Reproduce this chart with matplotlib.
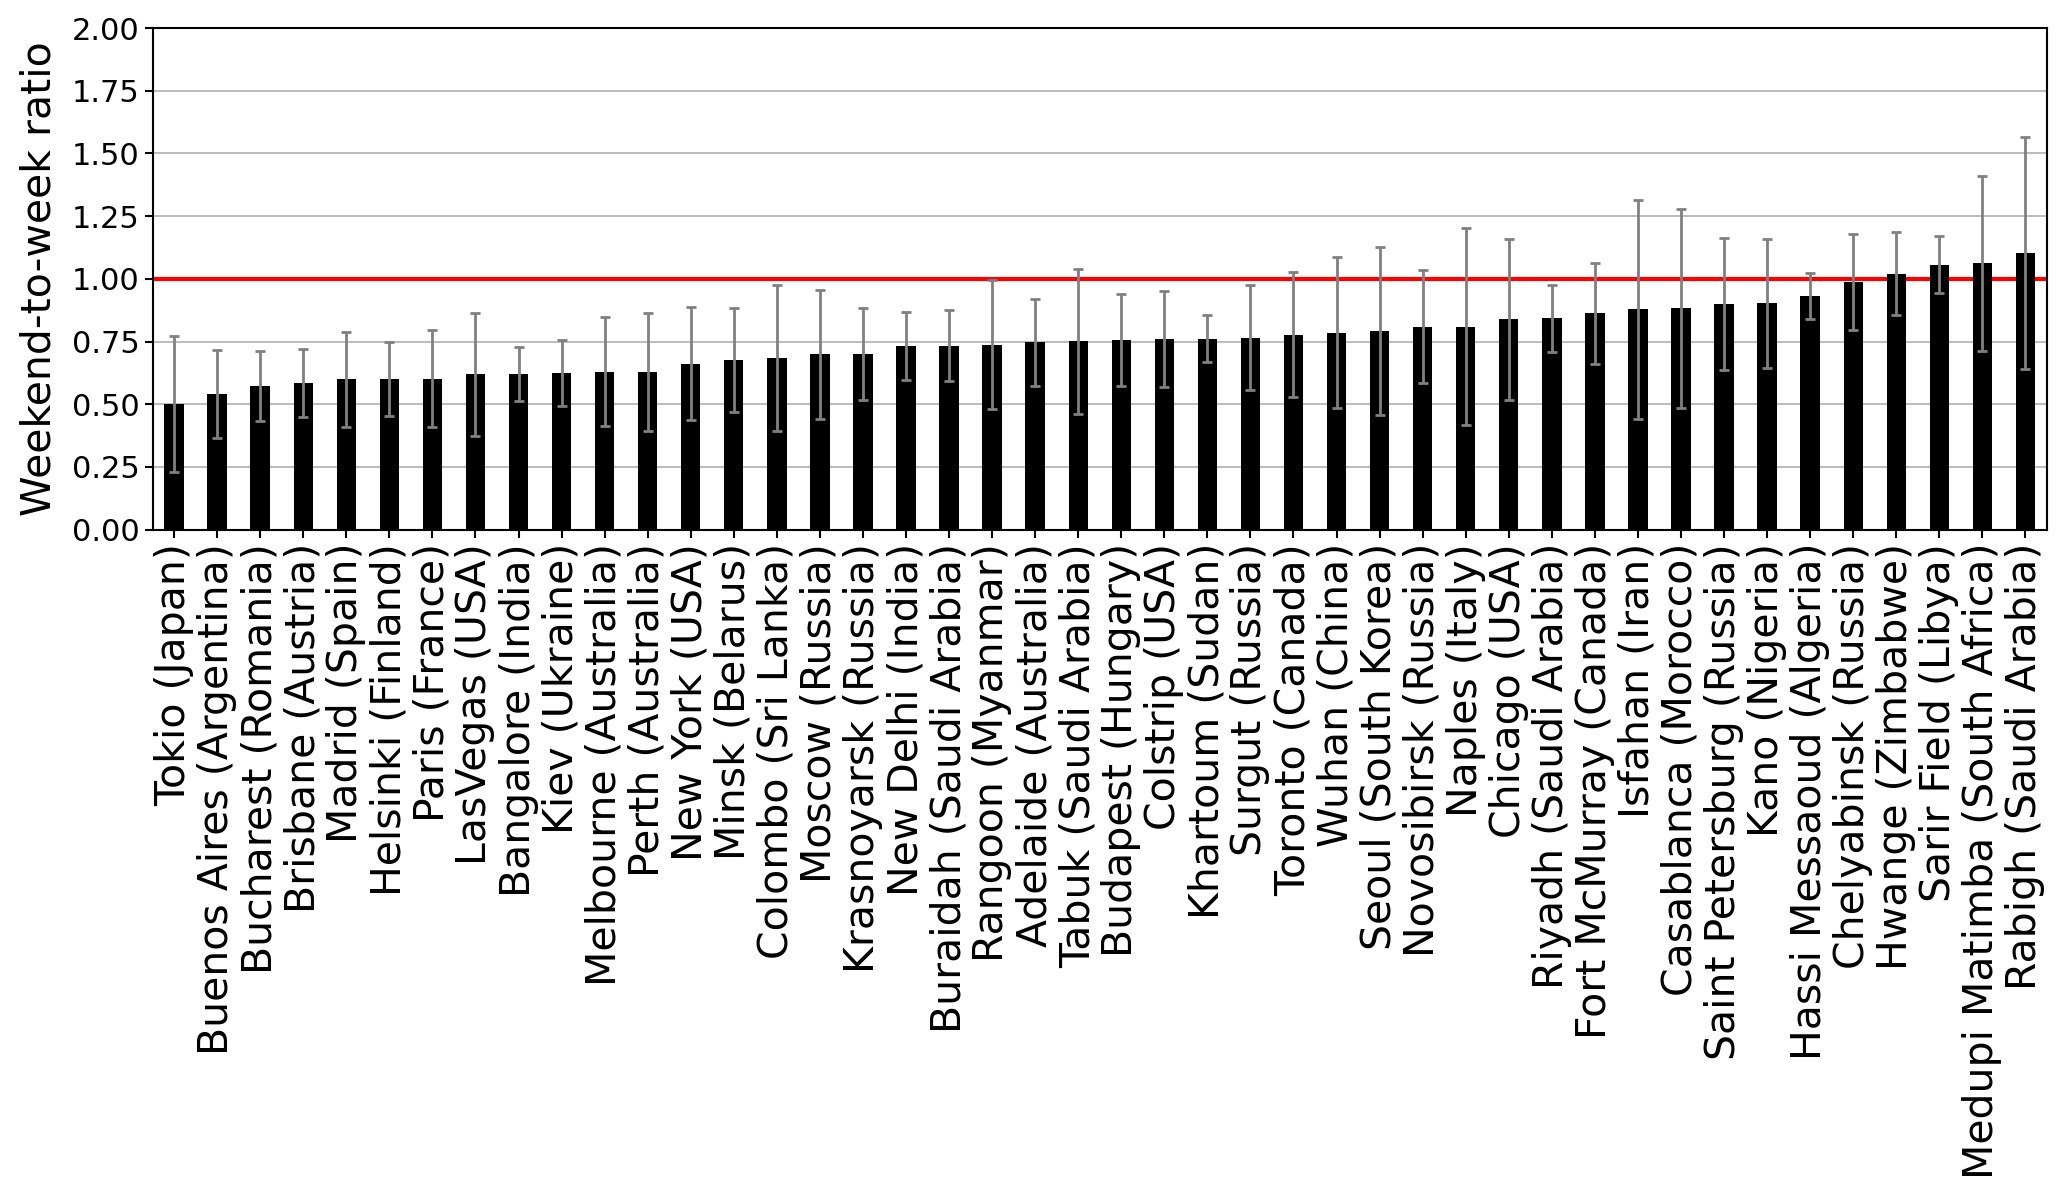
import matplotlib.pyplot as plt
import numpy as np

# cities and their weekend-to-week ratios (mean, spread)
cities = ['Tokio (Japan)', 'Buenos Aires (Argentina)', 'Bucharest (Romania)', 'Brisbane (Austria)',
          'Madrid (Spain)', 'Helsinki (Finland)', 'Paris (France)', 'LasVegas (USA)', 'Bangalore (India)',
          'Kiev (Ukraine)', 'Melbourne (Australia)', 'Perth (Australia)', 'New York (USA)', 'Minsk (Belarus)',
          'Colombo (Sri Lanka)', 'Moscow (Russia)', 'Krasnoyarsk (Russia)', 'New Delhi (India)',
          'Buraidah (Saudi Arabia)', 'Rangoon (Myanmar)', 'Adelaide (Australia)', 'Tabuk (Saudi Arabia)',
          'Budapest (Hungary)', 'Colstrip (USA)', 'Khartoum (Sudan)', 'Surgut (Russia)', 'Toronto (Canada)',
          'Wuhan (China)', 'Seoul (South Korea)', 'Novosibirsk (Russia)', 'Naples (Italy)', 'Chicago (USA)',
          'Riyadh (Saudi Arabia)', 'Fort McMurray (Canada)', 'Isfahan (Iran)', 'Casablanca (Morocco)',
          'Saint Petersburg (Russia)', 'Kano (Nigeria)', 'Hassi Messaoud (Algeria)', 'Chelyabinsk (Russia)',
          'Hwange (Zimbabwe)', 'Sarir Field (Libya)', 'Medupi Matimba (South Africa)', 'Rabigh (Saudi Arabia)']

ratio = [0.501, 0.541, 0.572, 0.585, 0.600, 0.602, 0.602, 0.620, 0.621, 0.625, 0.629,
         0.628, 0.662, 0.677, 0.684, 0.699, 0.701, 0.731, 0.733, 0.738, 0.747, 0.751,
         0.757, 0.761, 0.762, 0.766, 0.777, 0.786, 0.791, 0.810, 0.810, 0.838, 0.843,
         0.862, 0.879, 0.882, 0.900, 0.903, 0.930, 0.988, 1.020, 1.057, 1.062, 1.104]

spread = [0.270, 0.175, 0.140, 0.136, 0.190, 0.148, 0.193, 0.245, 0.107, 0.132, 0.217,
          0.235, 0.225, 0.206, 0.290, 0.256, 0.184, 0.135, 0.141, 0.256, 0.174, 0.290,
          0.183, 0.191, 0.092, 0.210, 0.249, 0.301, 0.335, 0.226, 0.392, 0.320, 0.133,
          0.203, 0.436, 0.398, 0.263, 0.257, 0.092, 0.192, 0.166, 0.114, 0.350, 0.462]

x = np.arange(len(cities))

fig = plt.figure(figsize=(20.67, 11.93), dpi=100)
ax = fig.add_axes([0.0738, 0.556, 0.9165, 0.4205])

ax.bar(x, ratio, width=0.45, color='black', zorder=3,
       yerr=spread, error_kw=dict(ecolor='gray', elinewidth=2, capsize=3.5, capthick=2, zorder=4))
ax.axhline(1.0, color='red', linewidth=3, zorder=2)

ax.set_xlim(-0.5, len(cities) - 0.5)
ax.set_ylim(0, 2.0)
ax.set_yticks(np.arange(0, 2.01, 0.25))
ax.set_yticklabels([f'{v:.2f}' for v in np.arange(0, 2.01, 0.25)], fontsize=22)
ax.set_xticks(x)
ax.set_xticklabels(cities, rotation=90, fontsize=29.5)
ax.grid(axis='y', color='#b0b0b0', linewidth=1.2, zorder=0)
ax.set_axisbelow(True)
ax.set_ylabel('Weekend-to-week ratio', fontsize=29.5, labelpad=9)
for s in ax.spines.values():
    s.set_linewidth(1.5)
ax.tick_params(width=1.5, length=6)

fig.savefig('out.png', dpi=100)
